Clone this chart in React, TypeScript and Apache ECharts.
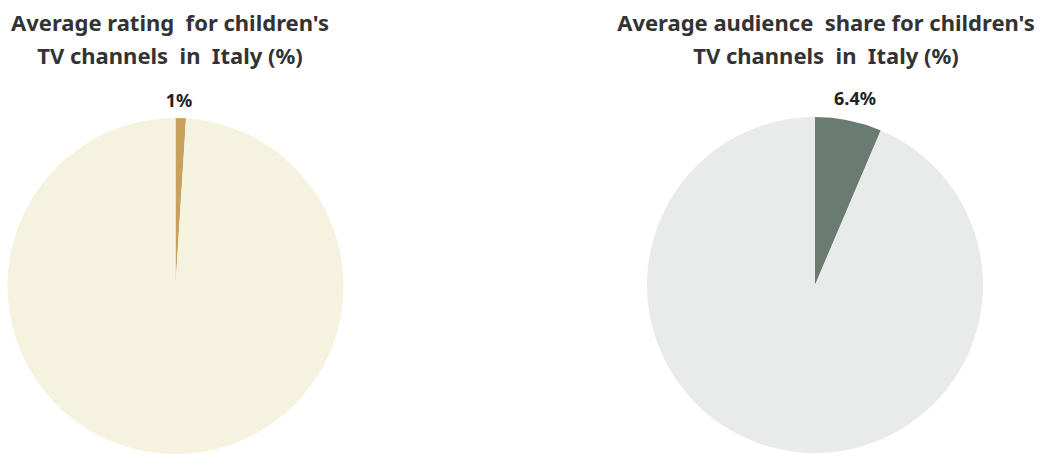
import React, { useEffect, useRef } from "react";
import * as echarts from "echarts";

const titles = [
  "Average rating  for children's\nTV channels  in  Italy (%)",
  "Average audience  share for children's\nTV channels  in  Italy (%)",
];
const sliceNames = ["Children's TV channels", "Other channels"];
const ratingValues = [1, 99];
const shareValues = [6.4, 93.6];
const ratingLabels = ["1%", ""];
const shareLabels = ["6.4%", ""];

export default function App() {
  const ref = useRef<HTMLDivElement>(null);
  useEffect(() => {
    if (!ref.current) return;
    const chart = echarts.init(ref.current, null, { renderer: "svg" });
    const titleStyle = {
      fontFamily: "Noto Sans",
      fontWeight: "bold" as const,
      fontSize: 22,
      color: "#333333",
      lineHeight: 33,
      align: "center" as const,
    };
    const makeSeries = (
      values: number[],
      labels: string[],
      colors: string[],
      center: [number, number],
      labelPos: [number, number]
    ) => ({
      type: "pie",
      center,
      radius: 168,
      startAngle: 90,
      clockwise: true,
      silent: true,
      avoidLabelOverlap: false,
      data: values.map((v, i) => ({
        name: sliceNames[i],
        value: v,
        itemStyle: { color: colors[i] },
        label: { show: labels[i] !== "", formatter: labels[i] },
        labelLine: { show: false },
      })),
      label: {
        position: "outside",
        fontFamily: "Noto Sans",
        fontWeight: "bold",
        fontSize: 18,
        color: "#222222",
      },
      labelLine: { show: false },
      labelLayout: () => ({
        x: labelPos[0],
        y: labelPos[1],
        align: "center",
        verticalAlign: "middle",
      }),
    });
    chart.setOption({
      animation: false,
      backgroundColor: "#ffffff",
      title: [
        {
          text: titles[0],
          left: 165,
          top: 0,
          textAlign: "center",
          textStyle: titleStyle,
        },
        {
          text: titles[1],
          left: 821,
          top: 0,
          textAlign: "center",
          textStyle: titleStyle,
        },
      ],
      series: [
        makeSeries(ratingValues, ratingLabels, ["#C9A15E", "#F5F3E0"], [175.5, 286], [179, 100]),
        makeSeries(shareValues, shareLabels, ["#6A7B71", "#E9EAEA"], [815, 285], [855, 98]),
      ],
    });
    return () => chart.dispose();
  }, []);
  return (
    <div
      ref={ref}
      style={{ position: "fixed", left: 0, top: 0, width: 1040, height: 455 }}
    />
  );
}
